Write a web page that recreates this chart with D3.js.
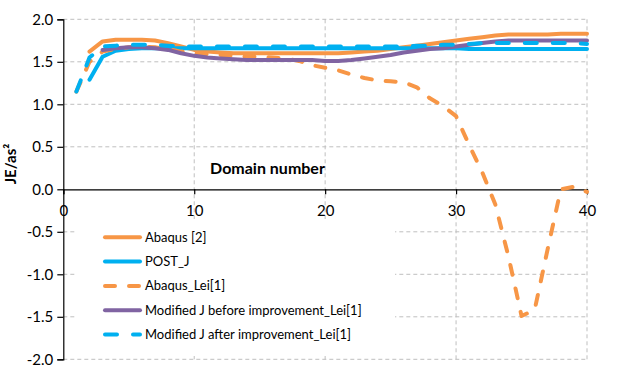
<!DOCTYPE html>
<html>
<head>
<meta charset="utf-8">
<script src="https://cdn.jsdelivr.net/npm/d3@7"></script>
<style>
  body { margin: 0; background: #fff; }
  text { font-family: Lato, "Noto Sans", sans-serif; }
</style>
</head>
<body>
<div id="container"></div>
<script>
/* DATA */
const abaqusX = d3.range(2, 41)
const abaqus = [1.62, 1.74, 1.76, 1.76, 1.76, 1.75, 1.72, 1.68, 1.64, 1.62, 1.61, 1.60, 1.60, 1.60, 1.60, 1.60, 1.60, 1.60, 1.60, 1.60,
  1.61, 1.62, 1.63, 1.65, 1.67, 1.69, 1.71, 1.73, 1.75, 1.77, 1.79, 1.81, 1.82, 1.82, 1.82, 1.82, 1.83, 1.83, 1.83]

const postJX = d3.range(2, 41)
const postJ = [1.29, 1.56, 1.63, 1.65, 1.66, 1.66, 1.66, 1.66, 1.66, 1.66, 1.66, 1.66, 1.66, 1.66, 1.66, 1.66, 1.66, 1.66, 1.66, 1.66,
  1.66, 1.66, 1.66, 1.66, 1.66, 1.66, 1.66, 1.66, 1.66, 1.65, 1.65, 1.65, 1.65, 1.65, 1.65, 1.65, 1.65, 1.65, 1.65]

const leiX = d3.range(1, 41)
const lei = [1.15, 1.50, 1.62, 1.65, 1.67, 1.68, 1.67, 1.65, 1.62, 1.60, 1.59, 1.58, 1.57, 1.56, 1.56, 1.55, 1.54, 1.51, 1.46, 1.43,
  1.40, 1.35, 1.31, 1.28, 1.27, 1.26, 1.20, 1.07, 0.98, 0.86, 0.52, 0.20, -0.18, -0.79, -1.49, -1.42, -0.70, 0.00, 0.03, -0.03]

const beforeX = d3.range(3, 41)
const before = [1.64, 1.66, 1.67, 1.67, 1.66, 1.64, 1.60, 1.57, 1.55, 1.54, 1.53, 1.52, 1.52, 1.52, 1.52, 1.52, 1.52, 1.51, 1.51,
  1.52, 1.54, 1.56, 1.58, 1.61, 1.63, 1.65, 1.66, 1.68, 1.70, 1.72, 1.74, 1.75, 1.75, 1.75, 1.75, 1.75, 1.75, 1.75]

const afterX = d3.range(1, 41)
const after = [1.15, 1.55, 1.68, 1.69, 1.70, 1.70, 1.70, 1.69, 1.68, 1.68, 1.68, 1.68, 1.68, 1.68, 1.68, 1.68, 1.68, 1.68, 1.68, 1.68,
  1.68, 1.68, 1.68, 1.68, 1.68, 1.68, 1.69, 1.69, 1.70, 1.70, 1.71, 1.72, 1.72, 1.72, 1.72, 1.72, 1.72, 1.72, 1.72, 1.71]

const xTicks = [0, 10, 20, 30, 40]
const yTicks = [-2, -1.5, -1, -0.5, 0, 0.5, 1, 1.5, 2]

const series = [
  {name: "Abaqus [2]", xs: abaqusX, ys: abaqus, color: "#F79646", dash: null},
  {name: "POST_J", xs: postJX, ys: postJ, color: "#00B0F0", dash: null},
  {name: "Abaqus_Lei[1]", xs: leiX, ys: lei, color: "#F79646", dash: "10,14"},
  {name: "Modified J before improvement_Lei[1]", xs: beforeX, ys: before, color: "#8064A2", dash: null},
  {name: "Modified J after improvement_Lei[1]", xs: afterX, ys: after, color: "#00B0F0", dash: "12,16"}
]

/* CONSTANTS */
const width = 618, height = 378

const svg = d3.select("#container")
  .append("svg")
  .attr("width", width)
  .attr("height", height)

/* SCALES */
const xScale = d3.scaleLinear().domain([0, 40]).range([63.3, 587])
const yScale = d3.scaleLinear().domain([-2, 2]).range([359.3, 19.3])

/* GRID */
svg.append("g")
  .selectAll("line")
  .data(yTicks.filter(d => d !== 0))
  .join("line")
  .attr("x1", xScale(0)).attr("x2", xScale(40))
  .attr("y1", d => yScale(d)).attr("y2", d => yScale(d))
  .attr("stroke", "#BFBFBF").attr("stroke-dasharray", "4,3")

svg.append("g")
  .selectAll("line")
  .data(xTicks.filter(d => d !== 0))
  .join("line")
  .attr("x1", d => xScale(d)).attr("x2", d => xScale(d))
  .attr("y1", yScale(2)).attr("y2", yScale(-2))
  .attr("stroke", "#BFBFBF").attr("stroke-dasharray", "4,3")

/* LEGEND BOX (covers grid) */
svg.append("rect")
  .attr("x", 77).attr("y", 219).attr("width", 318).attr("height", 137)
  .attr("fill", "white")

/* AXES */
const yAxis = d3.axisLeft(yScale)
  .tickValues(yTicks)
  .tickFormat(d => d.toFixed(1))
  .tickSizeOuter(0)
  .tickSize(6)
  .tickPadding(4)

const xAxis = d3.axisBottom(xScale)
  .tickValues(xTicks)
  .tickSizeOuter(0)
  .tickSize(5)
  .tickPadding(11)

const gy = svg.append("g")
  .attr("transform", `translate(${xScale(0)},0)`)
  .call(yAxis)

const gx = svg.append("g")
  .attr("transform", `translate(0,${yScale(0)})`)
  .call(xAxis)

for (const g of [gx, gy]) {
  g.selectAll("path, line").attr("stroke", "#000").attr("stroke-width", 1.2)
  g.selectAll("text").attr("font-size", 15).attr("fill", "#000").style("font-family", "Lato, sans-serif")
}

/* LINES */
const line = d3.line()
  .x(d => xScale(d[0]))
  .y(d => yScale(d[1]))

svg.append("g")
  .selectAll("path")
  .data(series)
  .join("path")
  .attr("d", s => line(s.xs.map((x, i) => [x, s.ys[i]])))
  .attr("fill", "none")
  .attr("stroke", s => s.color)
  .attr("stroke-width", 4)
  .attr("stroke-linecap", "round")
  .attr("stroke-linejoin", "round")
  .attr("stroke-dasharray", s => s.dash)

/* TITLES */
svg.append("text")
  .attr("x", 267.5).attr("y", 174)
  .attr("text-anchor", "middle")
  .attr("font-size", 16).attr("font-weight", "bold")
  .text("Domain number")

svg.append("text")
  .attr("transform", "translate(16,164) rotate(-90)")
  .attr("text-anchor", "middle")
  .attr("font-size", 15).attr("font-weight", "bold")
  .text("JE/as²")

/* LEGEND */
const legend = svg.append("g")
  .selectAll("g")
  .data(series)
  .join("g")
  .attr("transform", (d, i) => `translate(0,${237.3 + i * 24.3})`)

legend.append("line")
  .attr("x1", 105).attr("x2", 140)
  .attr("stroke", d => d.color)
  .attr("stroke-width", 4)
  .attr("stroke-linecap", "round")
  .attr("stroke-dasharray", d => d.dash)

legend.append("text")
  .attr("x", 145).attr("dy", "0.35em")
  .attr("font-size", 13)
  .text(d => d.name)
</script>
</body>
</html>
